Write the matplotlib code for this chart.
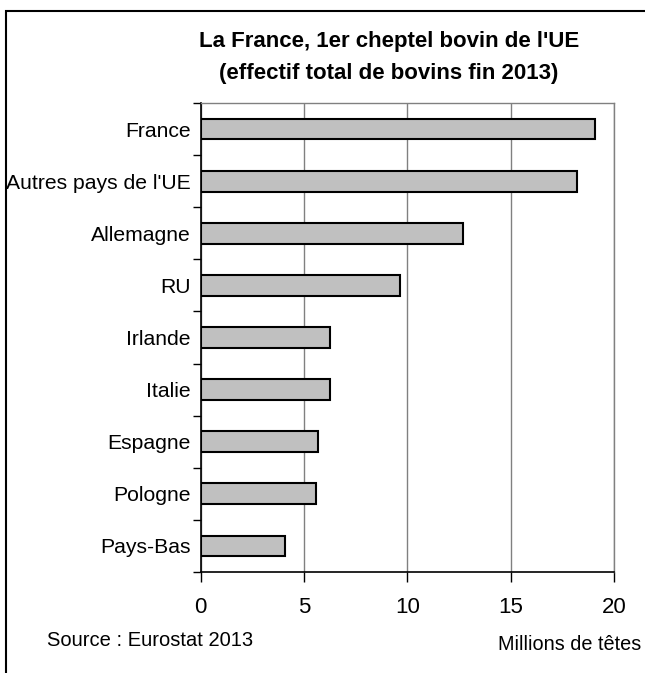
"""Cheptel bovin de l'UE fin 2013 - barres horizontales."""

import matplotlib

matplotlib.use("Agg")

import matplotlib.pyplot as plt
from matplotlib.patches import Rectangle
from matplotlib.ticker import FixedLocator

pays = [
    "France",
    "Autres pays de l'UE",
    "Allemagne",
    "RU",
    "Irlande",
    "Italie",
    "Espagne",
    "Pologne",
    "Pays-Bas",
]
effectifs = [19.08, 18.2, 12.67, 9.64, 6.28, 6.25, 5.68, 5.59, 4.07]
x_ticks = [0, 5, 10, 15, 20]

plt.rcParams["font.family"] = ["Liberation Sans", "DejaVu Sans"]

W, H = 645, 673
fig = plt.figure(figsize=(W / 100, H / 100), dpi=100)
ax = fig.add_axes([200.7 / W, 1 - 572 / H, (614 - 200.7) / W, (572 - 103) / H])

positions = list(range(len(pays)))
ax.barh(positions, effectifs, height=0.4, color="#c0c0c0", edgecolor="black",
        linewidth=1.5, zorder=3)

ax.set_xlim(0, 20)
ax.set_ylim(len(pays) - 0.5, -0.5)
ax.set_xticks(x_ticks)
ax.set_xticklabels([str(t) for t in x_ticks], fontsize=16)
ax.set_yticks(positions)
ax.set_yticklabels(pays, fontsize=15.2)
ax.yaxis.set_minor_locator(FixedLocator([p - 0.5 for p in range(len(pays) + 1)]))
ax.tick_params(axis="y", which="major", length=0, pad=7)
ax.tick_params(axis="y", which="minor", length=6, width=1, color="black", direction="out")
ax.tick_params(axis="x", which="major", length=7, width=1, color="black", direction="out", pad=11)

ax.grid(axis="x", color="#808080", linewidth=1, zorder=0)
ax.grid(axis="y", visible=False)
for side in ("left", "bottom"):
    ax.spines[side].set_color("black")
    ax.spines[side].set_linewidth(1.2)
for side in ("top", "right"):
    ax.spines[side].set_color("#808080")
    ax.spines[side].set_linewidth(1)

fig.text(389 / W, 1 - 42 / H, "La France, 1er cheptel bovin de l'UE", ha="center",
         va="center", fontsize=16, fontweight="bold")
fig.text(389 / W, 1 - 73 / H, "(effectif total de bovins fin 2013)", ha="center",
         va="center", fontsize=16, fontweight="bold")
fig.text(47 / W, 1 - 640 / H, "Source : Eurostat 2013", ha="left", va="center", fontsize=14.5)
fig.text(641 / W, 1 - 645 / H, "Millions de têtes", ha="right", va="center", fontsize=14.3)

fig.patches.append(Rectangle((6 / W, -0.2), 1.2, 1 - 11 / H + 0.2, transform=fig.transFigure,
                             fill=False, edgecolor="black", linewidth=1.5))

fig.savefig("out.png", dpi=100)
